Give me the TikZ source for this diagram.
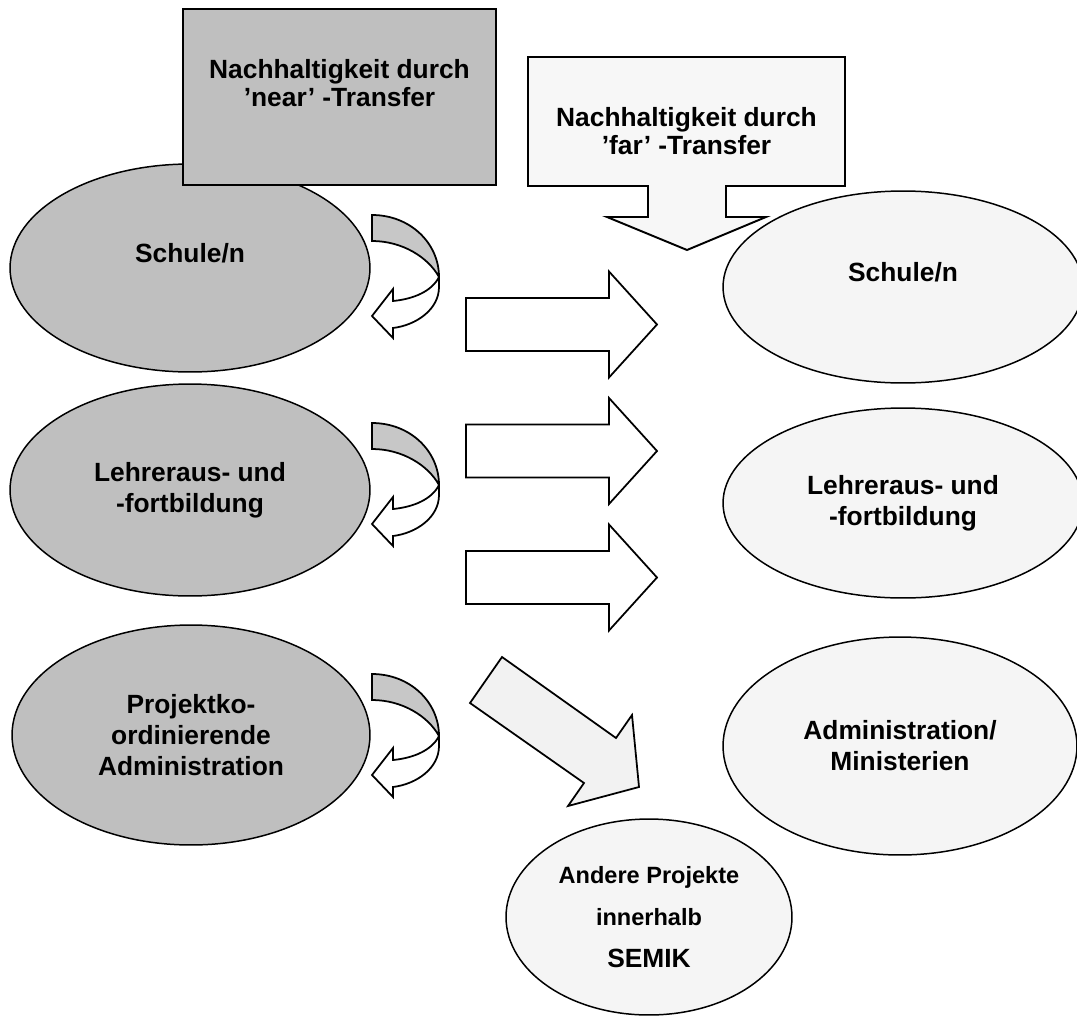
\documentclass[tikz,border=0pt]{standalone}
\usepackage{fontspec}
\setmainfont{Liberation Sans}
\usetikzlibrary{shapes.geometric}

\begin{document}
\begin{tikzpicture}[x=0.02cm, y=-0.02cm]
    \tikzset{every node/.style={align=center, font=\fontsize{15}{17.6}\selectfont\bfseries},
            dark/.style={draw=black, line width=0.85pt, fill=black!25},
            light/.style={draw=black, line width=0.85pt, fill=black!4},
            blob/.style={ellipse, inner sep=0pt},
            fat/.pic={\draw[line width=1pt, fill=white] (-95.5,-26.5) -- (47.5,-26.5) -- (47.5,-53) -- (95.5,0)
                -- (47.5,53) -- (47.5,26.5) -- (-95.5,26.5) -- cycle;},
            curl/.pic={
                \draw[line width=1pt, fill=black!22] (0,0) .. controls (38,0) and (67,28) .. (67,62)
                    .. controls (56,42) and (30,26) .. (0,26) -- cycle;
                \draw[line width=1pt, fill=white] (67,62) -- (67,72) .. controls (67,94) and (45,110) .. (21,113)
                    -- (21,123) -- (0,101) -- (21,74) -- (21,86) .. controls (42,84) and (60,76) .. (67,62) -- cycle;}}
    \path[use as bounding box, fill=white] (0,0) rectangle (1077,1017);

    % near transfer
    \node[blob, dark, minimum width=7.2cm, minimum height=4.16cm] (ls) at (190,268) {Schule/n\\ \mbox{}};
    \node[blob, dark, minimum width=7.2cm, minimum height=4.24cm] (ll) at (190,490) {Lehreraus- und\\ -fortbildung};
    \node[blob, dark, minimum width=7.16cm, minimum height=4.4cm] (la) at (191,735) {Projektko-\\ ordinierende\\ Administration};
    \node[dark, rectangle, line width=1.1pt, minimum width=6.26cm, minimum height=3.52cm, font=\fontsize{15}{16.2}\selectfont\bfseries]
        (near) at (339.5,97) {Nachhaltigkeit durch\\ ’near’ -Transfer\\ \mbox{}};
    \pic at (372,215) {curl};
    \pic at (372,423) {curl};
    \pic at (372,674) {curl};

    % far transfer
    \draw[light, line width=1.1pt, fill=black!3] (528,57) -- (845,57) -- (845,186) -- (726,186) -- (726,217) -- (766,217)
        -- (687,250) -- (607,217) -- (648,217) -- (648,186) -- (528,186) -- cycle;
    \node[font=\fontsize{15}{16.2}\selectfont\bfseries] (far) at (686.5,131) {Nachhaltigkeit durch\\ ’far’ -Transfer};
    \node[blob, light, minimum width=7.2cm, minimum height=3.84cm] (rs) at (903,287) {Schule/n\\ \mbox{}};
    \node[blob, light, minimum width=7.2cm, minimum height=3.8cm] (rl) at (903,503) {Lehreraus- und\\ -fortbildung};
    \node[blob, light, minimum width=7.08cm, minimum height=4.36cm] (ra) at (900,746) {Administration/\\ Ministerien};
    \node[blob, light, minimum width=5.72cm, minimum height=3.92cm, font=\fontsize{13.4}{23.8}\selectfont\bfseries]
        (sem) at (649,917) {Andere Projekte\\ innerhalb\\ {\fontsize{15}{23.8}\selectfont SEMIK}};

    \pic at (561.5,324.5) {fat};
    \pic at (561.5,451) {fat};
    \pic at (561.5,577.5) {fat};
    \draw[line width=1pt, fill=black!5] (502,657) -- (616,738) -- (632,715) -- (639,787) -- (568,806) -- (584,783)
        -- (470,703) -- cycle;
\end{tikzpicture}
\end{document}
